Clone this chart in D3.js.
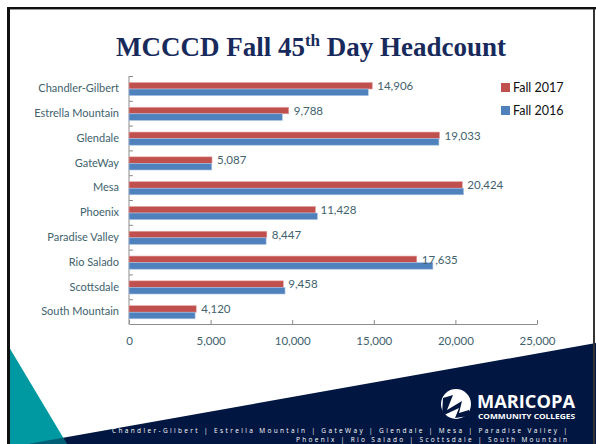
<!DOCTYPE html>
<html>
<head>
<meta charset="utf-8">
<script src="https://cdn.jsdelivr.net/npm/d3@7"></script>
<style>
    html, body { margin: 0; padding: 0; background: #fff; }
    svg { display: block; }
</style>
</head>
<body>
<svg id="slide" width="596" height="444"></svg>
<script>
(function () {
    'use strict';

    var categories = ['Chandler-Gilbert', 'Estrella Mountain', 'Glendale', 'GateWay', 'Mesa',
        'Phoenix', 'Paradise Valley', 'Rio Salado', 'Scottsdale', 'South Mountain'];
    var seriesNames = ['Fall 2017', 'Fall 2016'];
    var fall2017 = [14906, 9788, 19033, 5087, 20424, 11428, 8447, 17635, 9458, 4120];
    var fall2016 = [14660, 9390, 18990, 5070, 20500, 11540, 8400, 18620, 9560, 4050];
    var xTicks = [0, 5000, 10000, 15000, 20000, 25000];
    var footerLines = [
        'Chandler-Gilbert | Estrella Mountain | GateWay | Glendale | Mesa | Paradise Valley |',
        'Phoenix | Rio Salado | Scottsdale | South Mountain'
    ];

    var COLORS = ['#c0504d', '#4f81bd'],
        NAVY = '#011641',
        TEAL = '#0099a1',
        LABEL = '#41626d',
        AXIS = '#8c8c8c',
        FONT = 'Lato, "Open Sans", sans-serif';

    var svg = d3.select('#slide');

    svg.append('rect').attr('x', 0).attr('y', 0).attr('width', 596).attr('height', 444).attr('fill', '#fff');

    // bottom decoration
    var navy = 'M' + [[596, 343], [596, 444], [28, 444]].join('L') + 'Z',
        teal = 'M' + [[9, 347], [67, 444], [9, 444]].join('L') + 'Z';
    svg.append('clipPath').attr('id', 'tealclip').append('path').attr('d', teal);
    svg.append('path').attr('d', navy).attr('fill', NAVY);
    svg.append('path').attr('d', teal).attr('fill', TEAL);
    svg.append('path').attr('d', navy).attr('fill', NAVY)
        .attr('clip-path', 'url(#tealclip)').attr('opacity', 0.45);

    // borders
    svg.append('rect').attr('x', 7).attr('y', 7).attr('width', 589).attr('height', 2).attr('fill', '#111');
    svg.append('rect').attr('x', 9).attr('y', 9).attr('width', 587).attr('height', 1).attr('fill', '#999');
    svg.append('rect').attr('x', 7).attr('y', 7).attr('width', 3).attr('height', 437).attr('fill', '#111');
    svg.append('rect').attr('x', 593).attr('y', 9).attr('width', 2).attr('height', 435).attr('fill', '#333');

    // title
    var title = svg.append('text')
        .attr('x', 311)
        .attr('y', 56)
        .attr('text-anchor', 'middle')
        .style('font-family', '"Liberation Serif", "Times New Roman", serif')
        .style('font-weight', 'bold')
        .style('font-size', '27px')
        .attr('fill', '#182a5c');
    title.append('tspan').text('MCCCD Fall 45');
    title.append('tspan').text('th').style('font-size', '17px').attr('dy', -10);
    title.append('tspan').text(' Day Headcount').attr('dy', 10);

    // scales
    var x = d3.scaleLinear().domain([0, 25000]).range([129, 537]);
    var y = d3.scaleBand().domain(categories).range([76, 324]).padding(0);
    var y1 = d3.scaleBand().domain(seriesNames)
        .range([y.bandwidth() * 0.26, y.bandwidth() * 0.79]).padding(0);

    var rows = categories.map(function (c, i) {
        return { name: c, values: [fall2017[i], fall2016[i]] };
    });

    // axes
    var xAxis = svg.append('g')
        .attr('transform', 'translate(0,324)')
        .call(d3.axisBottom(x).tickValues(xTicks).tickSizeInner(-4).tickSizeOuter(0)
            .tickPadding(13).tickFormat(d3.format(',')));
    xAxis.select('.domain').attr('stroke', AXIS);
    xAxis.selectAll('.tick line').attr('stroke', AXIS);
    xAxis.selectAll('text').attr('fill', LABEL).style('font-family', FONT).style('font-size', '11.5px');

    var yAxis = svg.append('g')
        .attr('transform', 'translate(129,0)');
    yAxis.append('line')
        .attr('y1', 76).attr('y2', 324.5)
        .attr('stroke', AXIS);
    yAxis.selectAll('.tk')
        .data(categories)
        .enter().append('line')
        .attr('class', 'tk')
        .attr('x1', 0).attr('x2', 4)
        .attr('y1', function (d) { return y(d) + 0.5; })
        .attr('y2', function (d) { return y(d) + 0.5; })
        .attr('stroke', AXIS);
    yAxis.selectAll('.cat')
        .data(categories)
        .enter().append('text')
        .attr('class', 'cat')
        .attr('x', -10)
        .attr('y', function (d) { return y(d) + y.bandwidth() / 2; })
        .attr('dy', '0.35em')
        .attr('text-anchor', 'end')
        .attr('fill', LABEL)
        .style('font-family', FONT)
        .style('font-size', '11px')
        .text(function (d) { return d; });

    // bars
    var group = svg.append('g').attr('class', 'plot')
        .selectAll('.row')
        .data(rows)
        .enter().append('g')
        .attr('class', 'row')
        .attr('transform', function (d) { return 'translate(0,' + y(d.name) + ')'; });

    group.selectAll('rect')
        .data(function (d) { return d.values; })
        .enter().append('rect')
        .attr('x', x(0))
        .attr('y', function (d, i) { return y1(seriesNames[i]); })
        .attr('width', function (d) { return x(d) - x(0); })
        .attr('height', y1.bandwidth())
        .attr('fill', function (d, i) { return COLORS[i]; })
        .attr('stroke', function (d, i) { return i ? '#a9c1e3' : '#e4a9a7'; })
        .attr('stroke-width', 0.6);

    group.append('text')
        .attr('x', function (d) { return x(d.values[0]) + 5; })
        .attr('y', y1(seriesNames[0]) + y1.bandwidth() / 2)
        .attr('dy', '0.38em')
        .attr('fill', LABEL)
        .style('font-family', FONT)
        .style('font-size', '11.5px')
        .text(function (d) { return d3.format(',')(d.values[0]); });

    // legend
    var legendItem = svg.append('g')
        .attr('class', 'legend')
        .selectAll('.item')
        .data(seriesNames)
        .enter().append('g')
        .attr('class', 'item')
        .attr('transform', function (d, i) { return 'translate(501,' + (83 + i * 23) + ')'; });
    legendItem.append('rect')
        .attr('width', 9).attr('height', 9)
        .attr('fill', function (d, i) { return COLORS[i]; });
    legendItem.append('text')
        .attr('x', 12).attr('y', 9)
        .attr('fill', '#111')
        .style('font-family', FONT)
        .style('font-size', '12.5px')
        .text(function (d) { return d; });

    // logo
    var logo = svg.append('g').attr('transform', 'translate(456,404)');
    logo.append('circle').attr('r', 15).attr('fill', '#fff');
    logo.append('path')
        .attr('d', 'M-13,-6 L-3,-9 L-9,6 L6,-3 L3,9 L13,6 L13,12 L-1,14 L3,4 L-14,12 Z')
        .attr('fill', NAVY);
    svg.append('text')
        .attr('x', 477).attr('y', 408)
        .attr('fill', '#fff')
        .style('font-family', '"Open Sans", sans-serif')
        .style('font-weight', 'bold')
        .style('font-size', '18px')
        .attr('textLength', 98).attr('lengthAdjust', 'spacingAndGlyphs')
        .text('MARICOPA');
    svg.append('text')
        .attr('x', 478).attr('y', 419)
        .attr('fill', '#fff')
        .style('font-family', '"Open Sans", sans-serif')
        .style('font-weight', 'bold')
        .style('font-size', '7px')
        .attr('textLength', 97).attr('lengthAdjust', 'spacingAndGlyphs')
        .text('COMMUNITY COLLEGES');

    // footer
    svg.selectAll('.footer')
        .data(footerLines)
        .enter().append('text')
        .attr('class', 'footer')
        .attr('x', function (d, i) { return i ? 296 : 112; })
        .attr('y', function (d, i) { return 433 + i * 8.5; })
        .attr('fill', '#fff')
        .style('font-family', '"Open Sans", sans-serif')
        .style('font-size', '6.5px')
        .attr('textLength', function (d, i) { return i ? 271 : 455; })
        .attr('lengthAdjust', 'spacing')
        .text(function (d) { return d; });
})();
</script>
</body>
</html>
